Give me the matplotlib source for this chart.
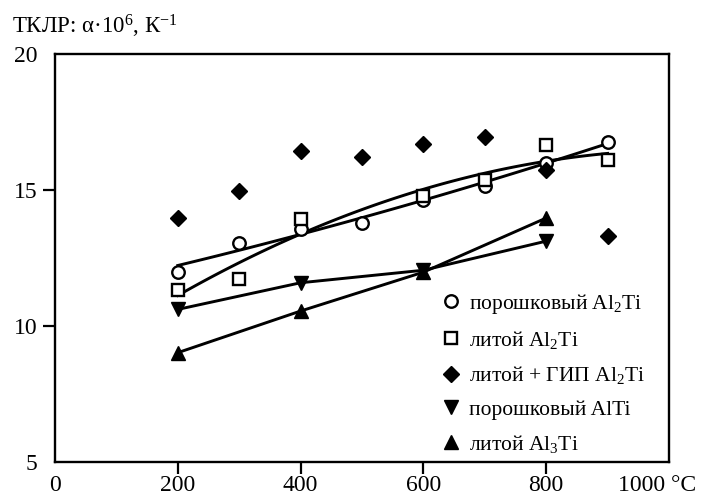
import matplotlib.pyplot as plt
import numpy as np
from matplotlib.transforms import ScaledTranslation

plt.rcParams['font.family'] = ['Liberation Serif', 'DejaVu Serif']
plt.rcParams['mathtext.fontset'] = 'custom'
plt.rcParams['mathtext.rm'] = 'Liberation Serif'
plt.rcParams['mathtext.it'] = 'Liberation Serif:italic'
plt.rcParams['mathtext.default'] = 'rm'

# temperatures, °C
temp = [200, 300, 400, 500, 600, 700, 800, 900]
temp_cast = [200, 300, 400, 600, 700, 800, 900]
temp_tri = [200, 400, 600, 800]

# ТКЛР values, 1e-6 1/K
powder_al2ti = [12.0, 13.06, 13.55, 13.79, 14.65, 15.13, 16.01, 16.78]
cast_al2ti = [11.32, 11.74, 13.95, 14.77, 15.35, 16.66, 16.09]
hip_al2ti = [13.97, 14.98, 16.42, 16.21, 16.70, 16.95, 15.75, 13.30]
powder_alti = [10.61, 11.59, 12.05, 13.12]
cast_al3ti = [9.02, 10.55, 11.98, 13.97]

labels = ['порошковый Al$_2$Ti', 'литой Al$_2$Ti', 'литой + ГИП Al$_2$Ti',
          'порошковый AlTi', 'литой Al$_3$Ti']

fig = plt.figure(figsize=(7.01, 4.98), dpi=100)
ax = fig.add_axes([55/701, 1-462/498, 614/701, 408/498])

# trend lines
xs = np.linspace(200, 900, 100)
lw = 2.1
ax.plot(xs, np.polyval(np.polyfit(temp, powder_al2ti, 2), xs), color='black', lw=lw, zorder=2)
ax.plot(xs, np.polyval(np.polyfit(temp_cast, cast_al2ti, 2), xs), color='black', lw=lw, zorder=2)
ax.plot(temp_tri, powder_alti, color='black', lw=lw, zorder=2)
ax.plot(temp_tri, cast_al3ti, color='black', lw=lw, zorder=2)

ms = 9
ax.plot(temp, powder_al2ti, 'o', ms=ms, mfc='white', mec='black', mew=1.7, ls='none', label=labels[0], zorder=3)
ax.plot(temp_cast, cast_al2ti, 's', ms=ms-1, mfc='white', mec='black', mew=1.7, ls='none', label=labels[1], zorder=3)
ax.plot(temp, hip_al2ti, 'D', ms=ms-1, color='black', ls='none', label=labels[2], zorder=3)
ax.plot(temp_tri, powder_alti, 'v', ms=ms+1, color='black', ls='none', label=labels[3], zorder=3)
ax.plot(temp_tri, cast_al3ti, '^', ms=ms+1, color='black', ls='none', label=labels[4], zorder=3)

ax.set_xlim(0, 1000)
ax.set_ylim(5, 20)
ax.set_xticks([0, 200, 400, 600, 800, 1000])
ax.set_xticklabels(['0', '200', '400', '600', '800', '1000 °C'])
ax.set_yticks([5, 10, 15, 20])
ax.tick_params(direction='out', length=8.5, width=1.6, labelsize=17)
ax.tick_params(axis='x', pad=1)
ax.tick_params(axis='y', pad=4)
for t in (ax.xaxis.get_major_ticks()[0], ax.xaxis.get_major_ticks()[-1],
          ax.yaxis.get_major_ticks()[0], ax.yaxis.get_major_ticks()[-1]):
    t.tick1line.set_visible(False)
lbl = ax.get_xticklabels()[-1]
lbl.set_transform(lbl.get_transform() + ScaledTranslation(-12/100, 0, fig.dpi_scale_trans))
for sp in ax.spines.values():
    sp.set_linewidth(1.7)

ax.legend(loc='lower left', bbox_to_anchor=(0.6, -0.025), frameon=False, fontsize=15.5,
          handlelength=1.0, handletextpad=0.3, labelspacing=0.62, borderpad=0.3)

fig.text(12/701, 1-26/498, 'ТКЛР: α·10$^{6}$, К$^{-1}$', fontsize=16.5, va='center', ha='left')

fig.savefig('out.png', dpi=100)
